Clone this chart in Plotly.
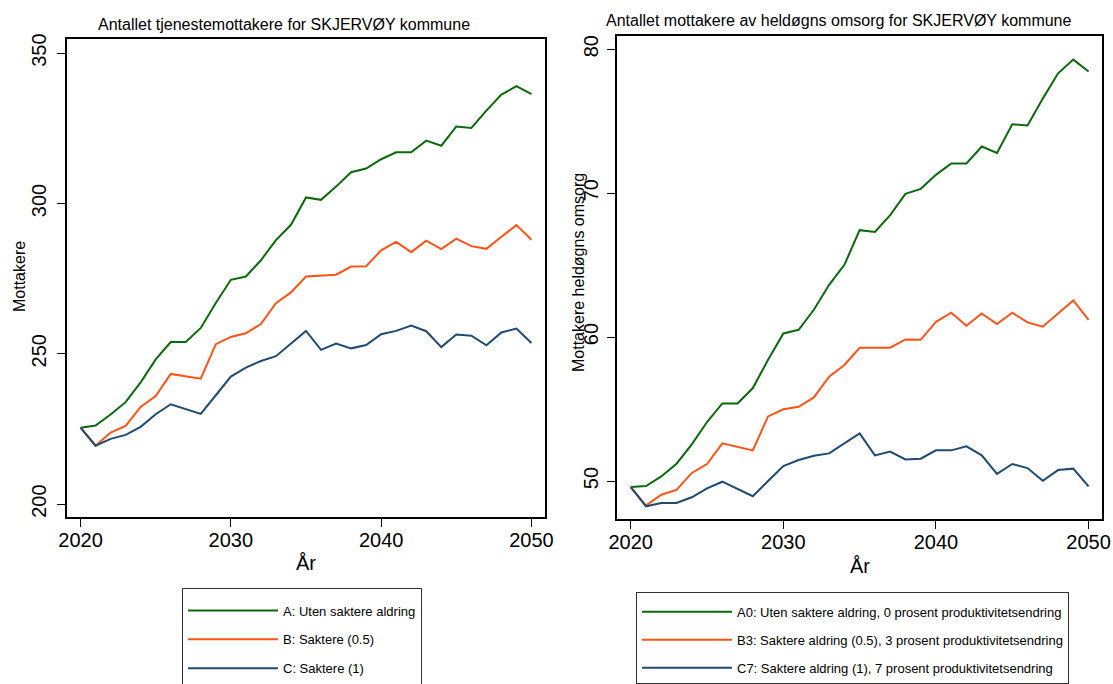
import plotly.graph_objects as go

years = list(range(2020, 2051))

# Left chart: Antallet tjenestemottakere
left_A = [225.4, 226.1, 229.8, 233.9, 240.5, 248.1, 253.9, 253.9, 258.6, 266.9,
          274.6, 275.7, 281.1, 287.8, 292.9, 302.0, 301.2, 305.6, 310.4, 311.6,
          314.7, 317.0, 317.0, 320.9, 319.2, 325.6, 325.1, 330.9, 336.2, 339.0, 336.4]
left_B = [225.4, 219.4, 223.8, 226.0, 232.3, 235.9, 243.3, 242.4, 241.7, 253.2,
          255.6, 256.8, 259.9, 266.8, 270.4, 275.7, 275.9, 276.3, 279.0, 279.1,
          284.4, 287.2, 283.8, 287.6, 284.8, 288.3, 285.8, 284.9, 288.9, 292.8, 287.9]
left_C = [225.4, 219.4, 221.7, 223.0, 225.7, 229.9, 233.2, 231.6, 230.0, 236.2,
          242.4, 245.4, 247.6, 249.2, 253.4, 257.6, 251.3, 253.4, 251.8, 252.9,
          256.5, 257.6, 259.4, 257.5, 252.2, 256.4, 256.0, 252.8, 257.1, 258.4, 253.6]

# Right chart: Antallet mottakere av heldøgns omsorg
right_A0 = [49.58, 49.65, 50.32, 51.20, 52.55, 54.10, 55.39, 55.39, 56.46, 58.43,
            60.25, 60.51, 61.90, 63.63, 65.02, 67.43, 67.31, 68.47, 69.95, 70.30,
            71.27, 72.06, 72.06, 73.24, 72.80, 74.79, 74.70, 76.57, 78.33, 79.28, 78.45]
right_B3 = [49.58, 48.29, 49.05, 49.38, 50.56, 51.18, 52.62, 52.36, 52.13, 54.49,
            54.98, 55.16, 55.81, 57.25, 58.06, 59.26, 59.24, 59.26, 59.84, 59.81,
            61.06, 61.69, 60.79, 61.64, 60.90, 61.69, 61.02, 60.72, 61.64, 62.55, 61.20]
right_C7 = [49.58, 48.24, 48.47, 48.47, 48.87, 49.49, 49.95, 49.44, 48.94, 50.00,
            51.04, 51.46, 51.76, 51.92, 52.64, 53.31, 51.78, 52.04, 51.50, 51.55,
            52.13, 52.13, 52.41, 51.78, 50.49, 51.18, 50.90, 50.02, 50.76, 50.86, 49.63]

left_names = ["A: Uten saktere aldring", "B: Saktere (0.5)", "C: Saktere (1)"]
right_names = ["A0: Uten saktere aldring, 0 prosent produktivitetsendring",
               "B3: Saktere aldring (0.5), 3 prosent produktivitetsendring",
               "C7: Saktere aldring (1), 7 prosent produktivitetsendring"]

x_ticks = [2020, 2030, 2040, 2050]
left_yticks = [200, 250, 300, 350]
right_yticks = [50, 60, 70, 80]

left_title = "Antallet tjenestemottakere for SKJERVØY kommune"
right_title = "Antallet mottakere av heldøgns omsorg for SKJERVØY kommune"
left_ytitle = "Mottakere"
right_ytitle = "Mottakere heldøgns omsorg"
xtitle = "År"

colors = ["#0b6b0b", "#ff5316", "#1f4a73"]
FONT = "Liberation Sans, Arial, Helvetica, sans-serif"

fig = go.Figure()
for name, vals, col in zip(left_names, [left_A, left_B, left_C], colors):
    fig.add_trace(go.Scatter(x=years, y=vals, mode="lines", name=name,
                             line=dict(color=col, width=2),
                             xaxis="x", yaxis="y", legend="legend",
                             legendgroup="L" + name))
for name, vals, col in zip(right_names, [right_A0, right_B3, right_C7], colors):
    fig.add_trace(go.Scatter(x=years, y=vals, mode="lines", name=name,
                             line=dict(color=col, width=2),
                             xaxis="x2", yaxis="y2", legend="legend2",
                             legendgroup="R" + name))

W, H = 1113, 684
def px_x(v):
    return v / W
def px_y(v):
    return 1 - v / H

axis_common = dict(showline=True, linecolor="black", linewidth=1.5, mirror=True,
                   ticks="outside", ticklen=8, tickwidth=1.2, tickcolor="black",
                   showgrid=False, zeroline=False, automargin=False,
                   tickfont=dict(size=20, color="black", family=FONT))

fig.update_layout(
    width=W, height=H,
    margin=dict(l=0, r=0, t=0, b=0, autoexpand=False),
    paper_bgcolor="white", plot_bgcolor="white",
    font=dict(family=FONT, color="black"),
    xaxis=dict(domain=[px_x(67), px_x(545)], range=[2019.1, 2050.9],
               tickvals=x_ticks, anchor="y", ticklabelstandoff=-4,
               **axis_common),
    yaxis=dict(domain=[px_y(517), px_y(39)], range=[195.7, 354.7],
               tickvals=left_yticks, tickangle=-90, anchor="x",
               ticklabelstandoff=3, **axis_common),
    xaxis2=dict(domain=[px_x(617), px_x(1102)], range=[2019.1, 2050.88],
                tickvals=x_ticks, anchor="y2", ticklabelstandoff=-4,
                **axis_common),
    yaxis2=dict(domain=[px_y(519), px_y(36)], range=[47.36, 80.92],
                tickvals=right_yticks, tickangle=-90, anchor="x2",
                ticklabelstandoff=1, **axis_common),
    legend=dict(x=px_x(182), y=px_y(588), xanchor="left", yanchor="top",
                bordercolor="#333333", borderwidth=1, bgcolor="white",
                font=dict(size=13, color="black"), itemwidth=90,
                tracegroupgap=9, traceorder="grouped",
                title=dict(text="&nbsp;", font=dict(size=5))),
    legend2=dict(x=px_x(636), y=px_y(592), xanchor="left", yanchor="top",
                 bordercolor="#333333", borderwidth=1, bgcolor="white",
                 font=dict(size=13, color="black"), itemwidth=90,
                 tracegroupgap=8, traceorder="grouped",
                 title=dict(text="&nbsp;", font=dict(size=3))),
    showlegend=True,
    annotations=[
        dict(text=left_title, xref="paper", yref="paper", x=px_x(284), y=px_y(24),
             xanchor="center", yanchor="middle", showarrow=False,
             font=dict(size=16, color="black")),
        dict(text=right_title, xref="paper", yref="paper", x=px_x(839), y=px_y(21),
             xanchor="center", yanchor="middle", showarrow=False,
             font=dict(size=16, color="black")),
        dict(text=left_ytitle, xref="paper", yref="paper", x=px_x(19), y=px_y(277),
             xanchor="center", yanchor="middle", showarrow=False, textangle=-90,
             font=dict(size=16, color="black")),
        dict(text=right_ytitle, xref="paper", yref="paper", x=px_x(578), y=px_y(272),
             xanchor="center", yanchor="middle", showarrow=False, textangle=-90,
             font=dict(size=16, color="black")),
        dict(text=xtitle, xref="paper", yref="paper", x=px_x(306), y=px_y(563),
             xanchor="center", yanchor="middle", showarrow=False,
             font=dict(size=20, color="black")),
        dict(text=xtitle, xref="paper", yref="paper", x=px_x(860), y=px_y(566),
             xanchor="center", yanchor="middle", showarrow=False,
             font=dict(size=20, color="black")),
    ],
)

fig.write_html(
    "out.html",
    config={"displayModeBar": False},
    post_script="document.documentElement.style.margin='0';"
                "document.body.style.margin='0';"
                "document.body.style.overflow='hidden';",
)
